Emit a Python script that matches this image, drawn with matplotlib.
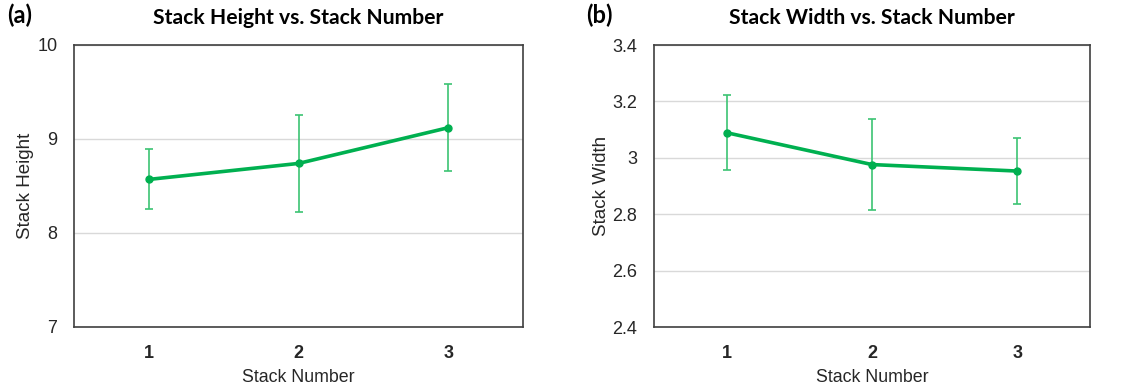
import matplotlib
matplotlib.use("Agg")
import matplotlib.pyplot as plt

stack_number = [1, 2, 3]

height_mean = [8.57, 8.74, 9.12]
height_err = [0.32, 0.52, 0.46]

width_mean = [3.089, 2.976, 2.953]
width_err = [0.134, 0.160, 0.118]

LINE = "#00b050"
ERR = "#3cc473"
GRID = "#d9d9d9"
TICK_FONT = "Liberation Sans"
TITLE_FONT = "Lato"

fig = plt.figure(figsize=(11.42, 3.92), dpi=100)
W, H = 1142, 392
ax_a = fig.add_axes([74 / W, 1 - 327 / H, (523 - 74) / W, (327 - 45) / H])
ax_b = fig.add_axes([654 / W, 1 - 327 / H, (1090 - 654) / W, (327 - 45) / H])

panels = [
    (ax_a, height_mean, height_err, (7, 10), [7, 8, 9, 10], ["7", "8", "9", "10"],
     "Stack Height", "Stack Height vs. Stack Number", "(a)", 7),
    (ax_b, width_mean, width_err, (2.4, 3.4), [2.4, 2.6, 2.8, 3.0, 3.2, 3.4],
     ["2.4", "2.6", "2.8", "3", "3.2", "3.4"],
     "Stack Width", "Stack Width vs. Stack Number", "(b)", 586),
]

for ax, mean, err, ylim, yt, ytl, ylab, title, tag, tag_x in panels:
    ax.errorbar(stack_number, mean, yerr=err, fmt="none", ecolor=ERR,
                elinewidth=1.2, capsize=3, capthick=1.2, zorder=2)
    ax.plot(stack_number, mean, "-o", color=LINE, lw=2.6, ms=5, zorder=3)
    ax.set_xlim(0.5, 3.5)
    ax.set_ylim(*ylim)
    ax.set_yticks(yt)
    ax.set_yticklabels(ytl, fontsize=13, family=TICK_FONT, color="#262626")
    ax.set_xticks(stack_number)
    ax.set_xticklabels([str(s) for s in stack_number], fontsize=13,
                       family=TICK_FONT, fontweight="bold", color="#262626")
    ax.tick_params(axis="y", length=0, pad=12)
    ax.tick_params(axis="x", length=0, pad=13)
    ax.grid(axis="y", color=GRID, lw=1, zorder=0)
    ax.set_axisbelow(True)
    for sp in ax.spines.values():
        sp.set_color("#404040")
        sp.set_linewidth(1.2)
    ax.set_ylabel(ylab, fontsize=13.5, family=TICK_FONT, color="#262626", labelpad=2)
    ax.set_xlabel("Stack Number", fontsize=12.8, family=TICK_FONT, color="#262626",
                  labelpad=5)
    ax.set_title(title, fontsize=15.2, family=TITLE_FONT, fontweight="bold", pad=15)
    fig.text(tag_x / W, 1 - 15 / H, tag, fontsize=17, family=TITLE_FONT,
             fontweight="bold", va="center", ha="left")

fig.savefig("out.png", dpi=100)
